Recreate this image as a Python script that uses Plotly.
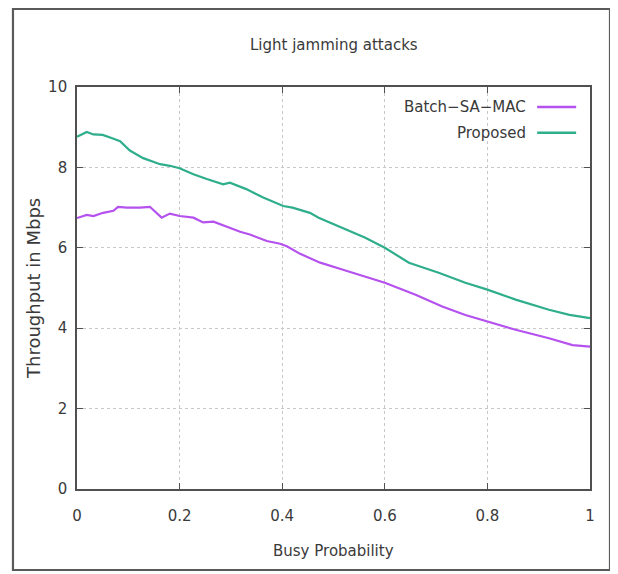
import plotly.graph_objects as go

# Busy probability (x) and throughput (Mbps)
proposed_x = [0.0, 0.019, 0.032, 0.05, 0.07, 0.084, 0.103, 0.129, 0.162, 0.181, 0.2, 0.227,
              0.253, 0.285, 0.298, 0.33, 0.363, 0.402, 0.42, 0.454, 0.471, 0.51, 0.562,
              0.6, 0.647, 0.705, 0.757, 0.8, 0.855, 0.92, 0.96, 1.0]
proposed_y = [8.76, 8.88, 8.82, 8.81, 8.72, 8.65, 8.42, 8.23, 8.08, 8.04, 7.98, 7.83,
              7.71, 7.58, 7.62, 7.46, 7.25, 7.04, 7.0, 6.87, 6.75, 6.54, 6.25,
              6.0, 5.63, 5.38, 5.13, 4.96, 4.71, 4.46, 4.33, 4.25]

batch_x = [0.0, 0.019, 0.032, 0.051, 0.071, 0.08, 0.097, 0.123, 0.142, 0.155, 0.165, 0.181,
           0.2, 0.227, 0.246, 0.266, 0.292, 0.318, 0.337, 0.37, 0.396, 0.409, 0.435,
           0.474, 0.517, 0.562, 0.6, 0.66, 0.712, 0.757, 0.8, 0.855, 0.92, 0.966, 1.0]
batch_y = [6.74, 6.82, 6.79, 6.87, 6.92, 7.02, 7.0, 7.0, 7.02, 6.88, 6.75, 6.85,
           6.79, 6.75, 6.63, 6.65, 6.52, 6.4, 6.33, 6.17, 6.1, 6.04, 5.85,
           5.63, 5.46, 5.29, 5.13, 4.83, 4.54, 4.33, 4.17, 3.96, 3.75, 3.58, 3.54]

x_ticks = [0, 0.2, 0.4, 0.6, 0.8, 1]
x_tick_labels = ["0", "0.2", "0.4", "0.6", "0.8", "1"]
y_ticks = [0, 2, 4, 6, 8, 10]

names = ["Batch−SA−MAC", "Proposed"]
colors = ["#b551ee", "#2fae8c"]

fig = go.Figure()
fig.add_trace(go.Scatter(x=batch_x, y=batch_y, mode="lines", name=names[0],
                         line=dict(color=colors[0], width=2.2)))
fig.add_trace(go.Scatter(x=proposed_x, y=proposed_y, mode="lines", name=names[1],
                         line=dict(color=colors[1], width=2.2)))

fam = "DejaVu Sans, sans-serif"
txt_col = "#3a3a3a"
axis_common = dict(showline=True, linecolor="#505050", linewidth=1.6, mirror="ticks",
                   ticks="inside", ticklen=6, tickcolor="#505050", tickwidth=1.2,
                   showgrid=True, gridcolor="#c8c8c8", griddash="dot", gridwidth=1,
                   zeroline=False, tickfont=dict(size=15, color=txt_col, family=fam))

# the page body adds an 8px offset at left/top, so the figure is 8px smaller
fig.update_layout(
    width=610, height=566,
    margin=dict(l=69, r=28, t=79, b=85),
    paper_bgcolor="white", plot_bgcolor="white",
    showlegend=False,
    font=dict(family=fam, color=txt_col),
    xaxis=dict(range=[0, 1], tickvals=x_ticks, ticktext=x_tick_labels,
               ticklabelstandoff=12, **axis_common),
    yaxis=dict(range=[0, 10], tickvals=y_ticks, ticklabelstandoff=5, **axis_common),
)

# Gnuplot-style key: text right-aligned, sample line to the right
key_y = [0.950, 0.886]
for name, color, ky in zip(names, colors, key_y):
    fig.add_annotation(x=0.879, y=ky, xref="paper", yref="paper", text=name,
                       showarrow=False, xanchor="right", yanchor="middle",
                       font=dict(size=15, color=txt_col, family=fam))
    fig.add_shape(type="line", xref="paper", yref="paper", x0=0.897, x1=0.973,
                  y0=ky, y1=ky, line=dict(color=color, width=2.5))

fig.add_annotation(x=0.5, y=1.104, xref="paper", yref="paper", text="Light jamming attacks",
                   showarrow=False, xanchor="center", yanchor="middle",
                   font=dict(size=15, color=txt_col, family=fam))
fig.add_annotation(x=0.5, y=-0.154, xref="paper", yref="paper", text="Busy Probability",
                   showarrow=False, xanchor="center", yanchor="middle",
                   font=dict(size=15, color=txt_col, family=fam))
fig.add_annotation(x=-0.0858, y=0.5, xref="paper", yref="paper", text="Throughput in Mbps",
                   showarrow=False, textangle=-90, xanchor="center", yanchor="middle",
                   font=dict(size=18, color=txt_col, family=fam))

# Outer frame around the whole figure
fig.add_shape(type="rect", xref="paper", yref="paper", x0=-0.1248, x1=1.039,
              y0=-0.2015, y1=1.194, line=dict(color="#5a5a5a", width=2.2))

fig.write_html("out.html")
